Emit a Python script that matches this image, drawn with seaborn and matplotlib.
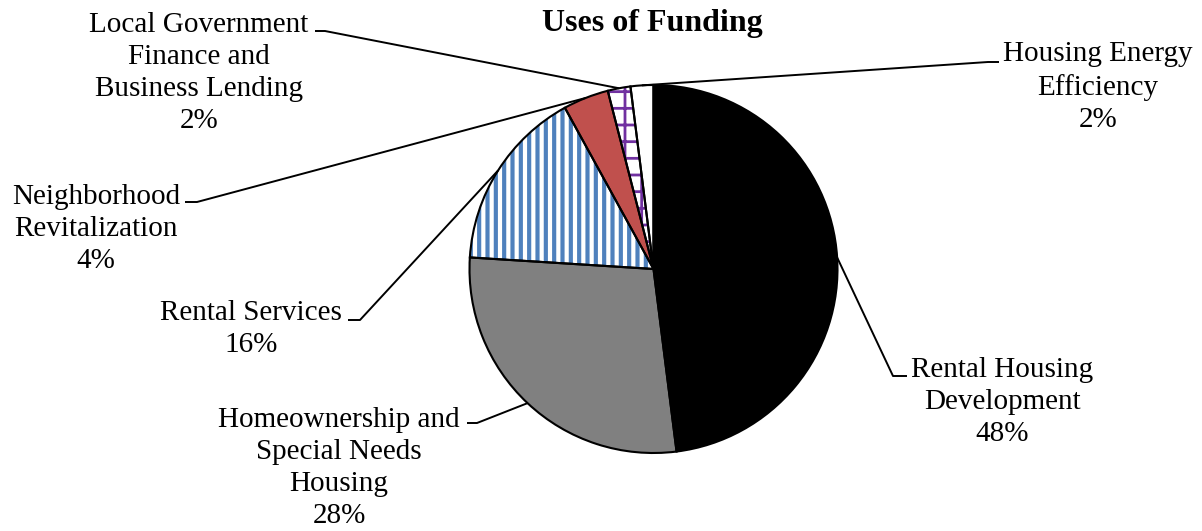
import numpy as np
import matplotlib
matplotlib.use("Agg")
import matplotlib.pyplot as plt
import seaborn as sns

# Funding shares by use (percent), clockwise from 12 o'clock
categories = [
    "Rental Housing\nDevelopment",
    "Homeownership and\nSpecial Needs\nHousing",
    "Rental Services",
    "Neighborhood\nRevitalization",
    "Local Government\nFinance and\nBusiness Lending",
    "Housing Energy\nEfficiency",
]
shares = [48, 28, 16, 4, 2, 2]

face_colors = ["#000000", "#808080", "#FFFFFF", "#C0504D", "#FFFFFF", "#FFFFFF"]
hatch_colors = ["#000000", "#808080", "#4F81BD", "#C0504D", "#7030A0", "#FFFFFF"]
hatches = [None, None, "||", None, "+", None]

sns.set_theme(style="white")
plt.rcParams["font.family"] = ["Liberation Serif", "DejaVu Serif"]
plt.rcParams["hatch.linewidth"] = 3.0

W, H, DPI = 12.02, 5.31, 100
fig = plt.figure(figsize=(W, H), dpi=DPI)
ax = fig.add_axes([0, 0, 1, 1])

# filled wedges (hatch drawn in each wedge's own colour)
fills, _ = ax.pie(shares, startangle=90, counterclock=False, radius=1.0,
                  colors=face_colors, wedgeprops=dict(linewidth=0))
for w, hc, h in zip(fills, hatch_colors, hatches):
    if h:
        w.set_hatch(h)
        w.set_edgecolor(hc)
        w.set_linewidth(0)
        if hasattr(w, "set_hatch_linewidth"):
            w.set_hatch_linewidth(3.0 if h == "||" else 2.0)

# black outlines on top
outlines, _ = ax.pie(shares, startangle=90, counterclock=False, radius=1.0,
                     colors=["none"] * len(shares),
                     wedgeprops=dict(edgecolor="black", linewidth=1.5, fill=False))

# pixel scale: pie of radius 1 spans 184 px, centred at (653.5, 269) px
scale = 184.0
cx, cy = 653.5, 269.0
ax.set_xlim(-cx / scale, (W * DPI - cx) / scale)
ax.set_ylim(-(H * DPI - cy) / scale, cy / scale)
ax.set_aspect("equal", adjustable="datalim")
ax.axis("off")

def px(x, y):
    return ((x - cx) / scale, (cy - y) / scale)

# label block centres and leader elbows (pixel layout)
label_pos = [px(1002, 402), px(339, 468), px(251, 329), px(96, 229), px(199, 73), px(1098, 87)]
elbows = [px(893, 376), px(477, 423), px(360, 320), px(197, 202), px(325, 31), px(988, 62)]
stub_ends = [px(907, 376), px(467, 423), px(348, 320), px(185, 202), px(315, 31), px(999, 62)]

for wedge, cat, val, lp, el, se in zip(fills, categories, shares, label_pos, elbows, stub_ends):
    mid = np.deg2rad((wedge.theta1 + wedge.theta2) / 2)
    anchor = (np.cos(mid) * wedge.r, np.sin(mid) * wedge.r)
    ax.plot([anchor[0], el[0], se[0]], [anchor[1], el[1], se[1]],
            color="black", linewidth=1.4, solid_capstyle="butt")
    ax.text(lp[0], lp[1], f"{cat}\n{val}%", ha="center", va="center",
            multialignment="center", fontsize=21, color="black", linespacing=1.31)

fig.text(652 / (W * DPI), 1 - 23 / (H * DPI), "Uses of Funding", ha="center", va="center",
         fontsize=23, fontweight="bold", color="black")

fig.savefig("out.png", dpi=DPI, facecolor="white")
